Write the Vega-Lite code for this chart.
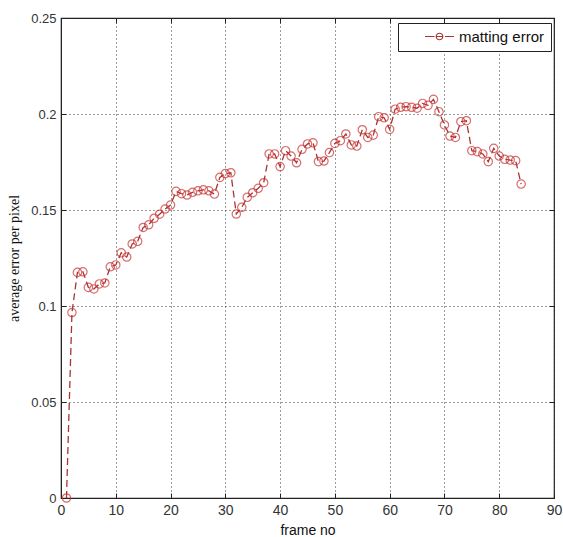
{
  "$schema": "https://vega.github.io/schema/vega-lite/v6.json",
  "autosize": "none",
  "width": 493,
  "height": 480,
  "padding": {"left": 61, "top": 18, "right": 9, "bottom": 39},
  "background": "white",
  "config": {
    "view": {"stroke": "#222", "strokeWidth": 1.2},
    "axis": {
      "labelFont": "Liberation Sans",
      "labelFontSize": 13,
      "labelColor": "#333",
      "domainColor": "#222",
      "tickColor": "#222",
      "gridColor": "#222",
      "gridDash": [1, 3],
      "gridOpacity": 0.9,
      "titleFontWeight": "normal",
      "titleColor": "#111"
    }
  },
  "data": {
    "values": [
      {"frame": 1, "err": 0.0}, {"frame": 2, "err": 0.0966}, {"frame": 3, "err": 0.1175}, {"frame": 4, "err": 0.1178},
      {"frame": 5, "err": 0.1097}, {"frame": 6, "err": 0.1089}, {"frame": 7, "err": 0.1115}, {"frame": 8, "err": 0.112},
      {"frame": 9, "err": 0.1204}, {"frame": 10, "err": 0.1214}, {"frame": 11, "err": 0.1277}, {"frame": 12, "err": 0.1255},
      {"frame": 13, "err": 0.1323}, {"frame": 14, "err": 0.1337}, {"frame": 15, "err": 0.1409}, {"frame": 16, "err": 0.1423},
      {"frame": 17, "err": 0.1457}, {"frame": 18, "err": 0.1478}, {"frame": 19, "err": 0.1505}, {"frame": 20, "err": 0.1526},
      {"frame": 21, "err": 0.1597}, {"frame": 22, "err": 0.1585}, {"frame": 23, "err": 0.1578}, {"frame": 24, "err": 0.1592},
      {"frame": 25, "err": 0.16}, {"frame": 26, "err": 0.1605}, {"frame": 27, "err": 0.16}, {"frame": 28, "err": 0.1583},
      {"frame": 29, "err": 0.167}, {"frame": 30, "err": 0.169}, {"frame": 31, "err": 0.1694}, {"frame": 32, "err": 0.1479},
      {"frame": 33, "err": 0.1514}, {"frame": 34, "err": 0.1566}, {"frame": 35, "err": 0.159}, {"frame": 36, "err": 0.1613},
      {"frame": 37, "err": 0.1642}, {"frame": 38, "err": 0.1792}, {"frame": 39, "err": 0.1792}, {"frame": 40, "err": 0.1726},
      {"frame": 41, "err": 0.1809}, {"frame": 42, "err": 0.1781}, {"frame": 43, "err": 0.1746}, {"frame": 44, "err": 0.1816},
      {"frame": 45, "err": 0.1844}, {"frame": 46, "err": 0.185}, {"frame": 47, "err": 0.1752}, {"frame": 48, "err": 0.1755},
      {"frame": 49, "err": 0.1799}, {"frame": 50, "err": 0.1847}, {"frame": 51, "err": 0.1861}, {"frame": 52, "err": 0.1896},
      {"frame": 53, "err": 0.1839}, {"frame": 54, "err": 0.1833}, {"frame": 55, "err": 0.1918}, {"frame": 56, "err": 0.1878},
      {"frame": 57, "err": 0.189}, {"frame": 58, "err": 0.1986}, {"frame": 59, "err": 0.198}, {"frame": 60, "err": 0.192},
      {"frame": 61, "err": 0.2025}, {"frame": 62, "err": 0.2035}, {"frame": 63, "err": 0.2038}, {"frame": 64, "err": 0.2035},
      {"frame": 65, "err": 0.203}, {"frame": 66, "err": 0.2055}, {"frame": 67, "err": 0.2045}, {"frame": 68, "err": 0.2076},
      {"frame": 69, "err": 0.2012}, {"frame": 70, "err": 0.1943}, {"frame": 71, "err": 0.1885}, {"frame": 72, "err": 0.1878},
      {"frame": 73, "err": 0.196}, {"frame": 74, "err": 0.1965}, {"frame": 75, "err": 0.1809}, {"frame": 76, "err": 0.1804},
      {"frame": 77, "err": 0.1792}, {"frame": 78, "err": 0.1752}, {"frame": 79, "err": 0.1821}, {"frame": 80, "err": 0.1781},
      {"frame": 81, "err": 0.1764}, {"frame": 82, "err": 0.176}, {"frame": 83, "err": 0.1757}, {"frame": 84, "err": 0.1635}
    ]
  },
  "transform": [{"calculate": "'matting error'", "as": "series"}],
  "layer": [
    {
      "mark": {"type": "line", "strokeDash": [7, 4], "strokeWidth": 1.3, "clip": false},
      "encoding": {
        "x": {
          "field": "frame", "type": "quantitative",
          "scale": {"domain": [0, 90], "nice": false, "zero": false},
          "axis": {
            "values": [0, 10, 20, 30, 40, 50, 60, 70, 80, 90],
            "title": "frame no",
            "titleFont": "Liberation Sans",
            "titleFontSize": 14,
            "titlePadding": 6,
            "tickSize": -5,
            "labelPadding": 10,
            "labelFontSize": 14,
            "grid": true,
            "labelFlush": false
          }
        },
        "y": {
          "field": "err", "type": "quantitative",
          "scale": {"domain": [0, 0.25], "nice": false},
          "axis": {
            "values": [0, 0.05, 0.1, 0.15, 0.2, 0.25],
            "format": "~g",
            "title": "average error per pixel",
            "titleFont": "Liberation Serif",
            "titleFontSize": 14,
            "titlePadding": 9,
            "tickSize": -5,
            "labelPadding": 10,
            "grid": true,
            "labelFlush": false
          }
        },
        "color": {
          "field": "series", "type": "nominal",
          "scale": {"range": ["#a83434"]},
          "legend": {
            "title": null,
            "orient": "none",
            "legendX": 337,
            "legendY": 5,
            "direction": "vertical",
            "fillColor": "white",
            "strokeColor": "#222",
            "padding": 6,
            "labelFont": "Liberation Sans",
            "labelFontSize": 15,
            "labelColor": "#111",
            "symbolType": "M-2.9,0H-1M-0.65,0A0.65,0.65,0,1,0,0.65,0A0.65,0.65,0,1,0,-0.65,0M-0.65,0H0.65M1.1,0H2.9",
            "symbolSize": 100,
            "symbolOffset": 28,
            "symbolStrokeWidth": 1.2,
            "symbolFillColor": "transparent",
            "symbolStrokeColor": "#c83a3a",
            "symbolDash": [],
            "labelOffset": 12
          }
        }
      }
    },
    {
      "mark": {"type": "point", "shape": "circle", "filled": false, "size": 70, "strokeWidth": 1.2, "color": "#c83030", "clip": false},
      "encoding": {
        "x": {"field": "frame", "type": "quantitative", "axis": {"orient": "top", "labels": false, "title": null, "domain": false, "grid": false, "tickSize": -5, "values": [0, 10, 20, 30, 40, 50, 60, 70, 80, 90]}},
        "y": {"field": "err", "type": "quantitative", "axis": {"orient": "right", "labels": false, "title": null, "domain": false, "grid": false, "tickSize": -5, "values": [0, 0.05, 0.1, 0.15, 0.2, 0.25]}}
      }
    }
  ],
  "resolve": {"axis": {"x": "independent", "y": "independent"}}
}
